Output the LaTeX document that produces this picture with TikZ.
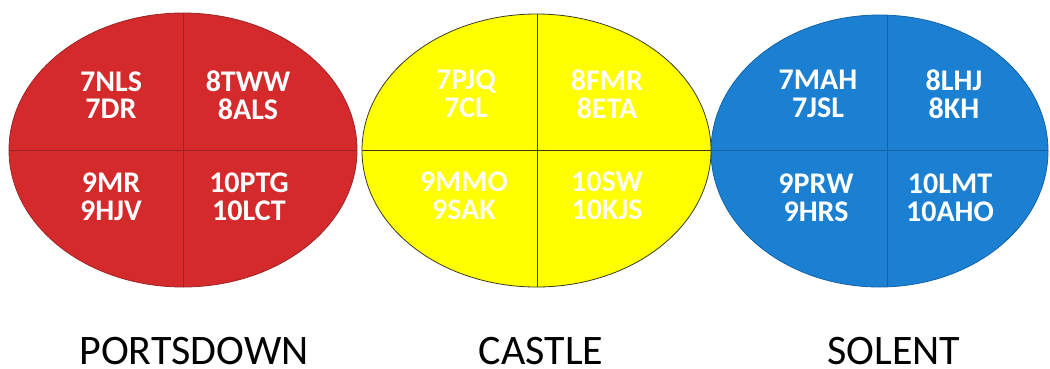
\documentclass[tikz,border=0pt]{standalone}
\usepackage{fontspec}
\setmainfont{Carlito}
\definecolor{redfill}{HTML}{D52A2C}
\definecolor{redline}{HTML}{9E2428}
\definecolor{yelfill}{HTML}{FFFF00}
\definecolor{yelline}{HTML}{3A3A20}
\definecolor{bluefill}{HTML}{1B80D2}
\definecolor{blueline}{HTML}{1463A8}
\definecolor{paletext}{HTML}{FFFFF2}
\begin{document}
\begin{tikzpicture}[x=1pt,y=-1pt,
  cls/.style={text=white, font=\bfseries\fontsize{30}{27.5}\selectfont, align=center, inner sep=0pt},
  house/.style={font=\fontsize{42}{48}\selectfont, text=black, inner sep=0pt, text depth=0pt, anchor=base},
  divider/.style={line width=1pt}]
\useasboundingbox (0,0) rectangle (1050,368);
% red
\path[fill=redfill, draw=redline, line width=0.8pt] (183,150) ellipse [x radius=174, y radius=137];
\begin{scope}
\clip (183,150) ellipse [x radius=174, y radius=137];
\draw[divider, draw=redline] (0,150) -- (370,150);
\draw[divider, draw=redline] (183,0) -- (183,300);
\end{scope}
% blue
\path[fill=bluefill, draw=blueline, line width=0.8pt] (879.5,151) ellipse [x radius=168.5, y radius=136];
\begin{scope}
\clip (879.5,151) ellipse [x radius=168.5, y radius=136];
\draw[divider, draw=blueline] (700,150) -- (1050,150);
\draw[divider, draw=blueline] (887,0) -- (887,300);
\end{scope}
% yellow
\path[fill=yelfill, draw=yelline, line width=0.8pt] (536.5,150.5) ellipse [x radius=174.5, y radius=136.5];
\begin{scope}
\clip (536.5,150.5) ellipse [x radius=174.5, y radius=136.5];
\draw[divider, draw=yelline] (350,150) -- (720,150);
\draw[divider, draw=yelline] (537,0) -- (537,300);
\end{scope}
% texts
\node[cls] (p1) at (111,95) {7NLS\\7DR};
\node[cls] (p2) at (248,95) {8TWW\\8ALS};
\node[cls] (p3) at (111,197) {9MR\\9HJV};
\node[cls] (p4) at (249,197) {10PTG\\10LCT};
\node[cls, text=paletext] (c1) at (466,94) {7PJQ\\7CL};
\node[cls, text=paletext] (c2) at (607,94) {8FMR\\8ETA};
\node[cls, text=paletext] (c3) at (464,196) {9MMO\\9SAK};
\node[cls, text=paletext] (c4) at (607,196) {10SW\\10KJS};
\node[cls] (s1) at (818,94) {7MAH\\7JSL};
\node[cls] (s2) at (954,94) {8LHJ\\8KH};
\node[cls] (s3) at (816,198) {9PRW\\9HRS};
\node[cls] (s4) at (950,198) {10LMT\\10AHO};
\node[house] (lp) at (194,364) {PORTSDOWN};
\node[house] (lc) at (541,364) {CASTLE};
\node[house] (ls) at (894,364) {SOLENT};
\end{tikzpicture}
\end{document}
